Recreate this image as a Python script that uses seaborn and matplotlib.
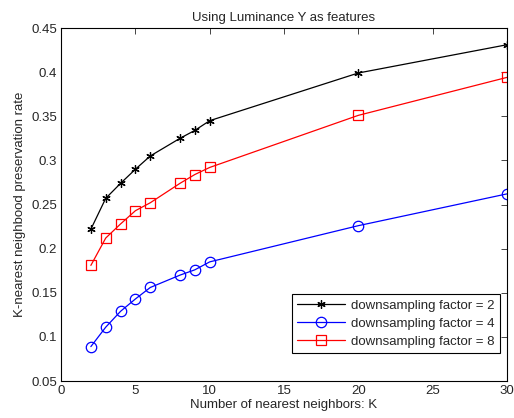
import matplotlib
matplotlib.use("Agg")
import matplotlib.pyplot as plt
import seaborn as sns
import pandas as pd

K = [2, 3, 4, 5, 6, 8, 9, 10, 20, 30]
f2 = [0.222, 0.257, 0.274, 0.290, 0.305, 0.325, 0.334, 0.345, 0.399, 0.431]
f4 = [0.089, 0.111, 0.129, 0.143, 0.156, 0.170, 0.176, 0.185, 0.226, 0.262]
f8 = [0.181, 0.212, 0.228, 0.243, 0.252, 0.274, 0.284, 0.292, 0.351, 0.394]
labels = ["downsampling factor = 2", "downsampling factor = 4", "downsampling factor = 8"]
xticks = [0, 5, 10, 15, 20, 25, 30]
yticks = [0.05, 0.1, 0.15, 0.2, 0.25, 0.3, 0.35, 0.4, 0.45]
ytick_labels = ["0.05", "0.1", "0.15", "0.2", "0.25", "0.3", "0.35", "0.4", "0.45"]

sns.set_style("white")
plt.rcParams['font.family'] = ['Liberation Sans', 'DejaVu Sans']
plt.rcParams['font.size'] = 9.5

FS = 9.5
fig = plt.figure(figsize=(5.14, 4.18), dpi=100)
ax = fig.add_axes([0.119, 0.0885, 0.867, 0.8445])

styles = [
    dict(color="black", marker=(6, 2, 0), markersize=6, markerfacecolor="black", markeredgecolor="black"),
    dict(color="blue", marker="o", markersize=7.5, markerfacecolor="none", markeredgecolor="blue"),
    dict(color="red", marker="s", markersize=7.5, markerfacecolor="none", markeredgecolor="red"),
]
for vals, lab, st in zip([f2, f4, f8], labels, styles):
    df = pd.DataFrame({"K": K, "v": vals})
    sns.lineplot(data=df, x="K", y="v", ax=ax, label=lab, linewidth=0.9,
                 markeredgewidth=0.9, **st)

ax.set_xlim(0, 30)
ax.set_ylim(0.05, 0.45)
ax.set_xticks(xticks)
ax.set_xticklabels([str(t) for t in xticks])
ax.set_yticks(yticks)
ax.set_yticklabels(ytick_labels)
ax.tick_params(direction="in", top=True, right=True, length=4, width=0.6, labelsize=FS, pad=3)
for s in ax.spines.values():
    s.set_color("black")
    s.set_linewidth(0.8)
ax.set_xlabel("Number of nearest neighbors: K", fontsize=FS, labelpad=1)
ax.set_ylabel("K-nearest neighbood preservation rate", fontsize=FS, labelpad=4)
ax.set_title("Using Luminance Y as features", fontsize=FS, pad=5)
leg = ax.legend(loc="lower right", fontsize=FS, frameon=True, fancybox=False,
                edgecolor="black", framealpha=1, borderpad=0.4, handlelength=3.6,
                labelspacing=0.45, handletextpad=0.5, bbox_to_anchor=(1.0, 0.06))
leg.get_frame().set_linewidth(0.8)
fig.savefig("out.png", dpi=100)
